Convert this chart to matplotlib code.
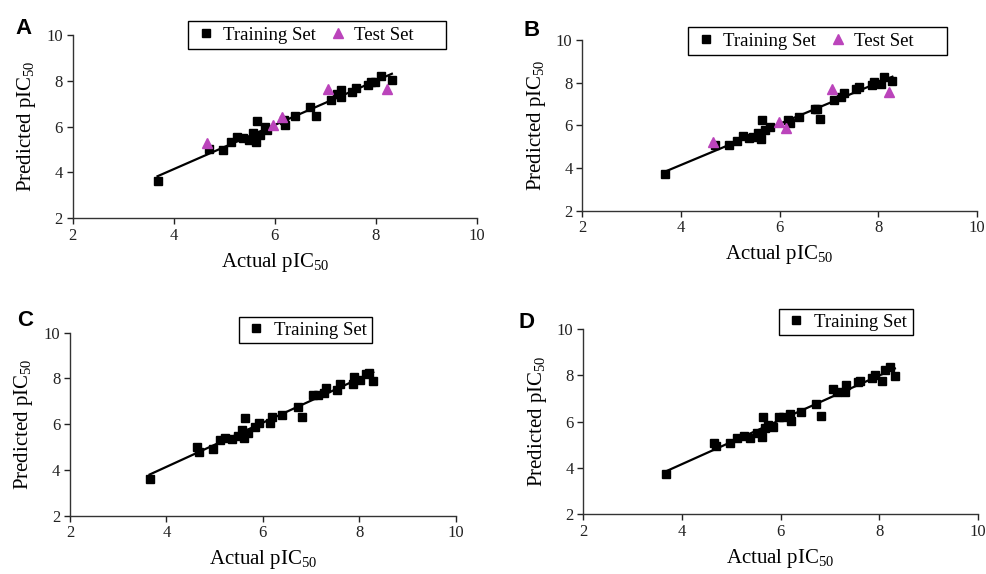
import numpy as np
import matplotlib
matplotlib.use("Agg")
import matplotlib.pyplot as plt
from matplotlib.patches import Rectangle

plt.rcParams['font.family'] = ['Liberation Serif', 'DejaVu Serif']
plt.rcParams['mathtext.default'] = 'regular'

# Panel A
a_train_x = [3.68, 4.69, 4.97, 5.13, 5.25, 5.37, 5.49, 5.58, 5.63, 5.64, 5.71, 5.81, 5.85,
             6.18, 6.21, 6.41, 6.70, 6.82, 7.11, 7.24, 7.32, 7.32, 7.53, 7.60, 7.85, 7.90,
             7.99, 8.10, 8.32]
a_train_y = [3.61, 5.01, 5.00, 5.35, 5.56, 5.49, 5.42, 5.71, 5.35, 6.26, 5.64, 6.00, 5.85,
             6.29, 6.07, 6.47, 6.84, 6.47, 7.16, 7.43, 7.60, 7.31, 7.53, 7.67, 7.82, 7.96,
             7.96, 8.21, 8.04]
a_test_x = [4.65, 5.97, 6.14, 7.05, 8.23]
a_test_y = [5.30, 6.07, 6.44, 7.64, 7.64]

# Panel B
b_train_x = [3.67, 4.69, 4.97, 5.13, 5.25, 5.38, 5.46, 5.57, 5.62, 5.64, 5.71, 5.81, 6.18,
             6.21, 6.40, 6.72, 6.77, 6.83, 7.10, 7.24, 7.31, 7.56, 7.61, 7.87, 7.92, 8.05,
             8.12, 8.29]
b_train_y = [3.70, 5.08, 5.06, 5.27, 5.50, 5.39, 5.44, 5.63, 5.34, 6.25, 5.78, 5.94, 6.25,
             6.09, 6.41, 6.75, 6.75, 6.30, 7.19, 7.34, 7.50, 7.69, 7.81, 7.89, 8.02, 7.92,
             8.28, 8.09]
b_test_x = [4.66, 5.98, 6.14, 7.07, 8.23]
b_test_y = [5.23, 6.17, 5.86, 7.69, 7.58]

# Panel C
c_train_x = [3.65, 4.63, 4.68, 4.97, 5.11, 5.21, 5.35, 5.48, 5.56, 5.60, 5.63, 5.70, 5.84,
             5.93, 6.15, 6.18, 6.39, 6.72, 6.81, 7.05, 7.15, 7.26, 7.31, 7.53, 7.60, 7.87,
             7.90, 8.02, 8.14, 8.21, 8.29]
c_train_y = [3.60, 5.02, 4.80, 4.90, 5.31, 5.41, 5.35, 5.48, 5.74, 5.38, 6.26, 5.60, 5.89,
             6.07, 6.04, 6.33, 6.40, 6.74, 6.30, 7.28, 7.28, 7.38, 7.57, 7.50, 7.76, 7.76,
             8.08, 7.94, 8.20, 8.26, 7.91]

# Panel D
d_train_x = [3.68, 4.65, 4.69, 4.97, 5.12, 5.25, 5.38, 5.52, 5.62, 5.64, 5.68, 5.75, 5.84,
             5.96, 6.06, 6.19, 6.21, 6.41, 6.73, 6.83, 7.06, 7.14, 7.31, 7.33, 7.58, 7.61,
             7.85, 7.92, 8.05, 8.12, 8.22, 8.32]
d_train_y = [3.71, 5.08, 4.94, 5.08, 5.27, 5.37, 5.27, 5.49, 5.34, 6.21, 5.70, 5.85, 5.78,
             6.18, 6.18, 6.32, 6.03, 6.42, 6.74, 6.25, 7.40, 7.29, 7.29, 7.58, 7.69, 7.76,
             7.86, 8.01, 7.76, 8.23, 8.34, 7.98]

ticks = [2, 4, 6, 8, 10]
panel_names = ['A', 'B', 'C', 'D']
xlabel = 'Actual pIC$_{50}$'
ylabel = 'Predicted pIC$_{50}$'

W, H = 986, 574
fig = plt.figure(figsize=(W / 100, H / 100), dpi=100)

def frac(l, r, t, b):
    return [l / W, 1 - b / H, (r - l) / W, (b - t) / H]

boxes = [frac(72.7, 476.7, 35, 218.3), frac(582.3, 976.7, 40, 210.7),
         frac(70, 455.7, 332.7, 515.7), frac(583.3, 977.7, 329, 514)]
trains = [(a_train_x, a_train_y), (b_train_x, b_train_y), (c_train_x, c_train_y), (d_train_x, d_train_y)]
tests = [(a_test_x, a_test_y), (b_test_x, b_test_y), None, None]
# legend frame: left, top, right, bottom (pixels)
legend_box = [(188, 21, 446, 49), (688, 27, 947, 55), (239, 317, 372, 343), (779, 309, 913, 335)]
label_pos = [(23, 29), (532, 30), (25, 320), (527, 323)]

for i in range(4):
    ax = fig.add_axes(boxes[i])
    tx, ty = trains[i]
    tx = np.array(tx); ty = np.array(ty)
    k, c0 = np.polyfit(tx, ty, 1)
    xs = np.array([tx.min(), tx.max()])
    ax.plot(xs, k * xs + c0, color='black', lw=1.6, zorder=2)
    ax.plot(tx, ty, 's', color='black', ms=6, label='Training Set', zorder=3, linestyle='none')
    if tests[i] is not None:
        ax.plot(tests[i][0], tests[i][1], '^', color='#BB44BB', ms=7.5, label='Test Set',
                zorder=4, linestyle='none')
    ax.set_xlim(2, 10)
    ax.set_ylim(2, 10)
    ax.set_xticks(ticks)
    ax.set_yticks(ticks)
    for s in ['top', 'right']:
        ax.spines[s].set_visible(False)
    for s in ['left', 'bottom']:
        ax.spines[s].set_color('#333333')
        ax.spines[s].set_linewidth(1.0)
    ax.tick_params(direction='out', length=4, width=1, labelsize=12, colors='#222222', pad=3)
    ax.set_xlabel(xlabel, fontsize=15, labelpad=5)
    ax.set_ylabel(ylabel, fontsize=15, labelpad=6)

    l, t, r, b = legend_box[i]
    rect = Rectangle((l / W, 1 - b / H), (r - l) / W, (b - t) / H,
                     transform=fig.transFigure, fill=True, facecolor='white',
                     edgecolor='black', lw=1.0, zorder=5, clip_on=False)
    ax.add_patch(rect)
    ncol = 2 if tests[i] is not None else 1
    leg = ax.legend(loc='center left', bbox_to_anchor=((l + (7 if ncol == 2 else 6)) / W,
                                                       1 - (t + b) / 2 / H),
                    bbox_transform=fig.transFigure, ncol=ncol, fontsize=13.5,
                    frameon=False, handletextpad=0.3 if ncol == 2 else 0.35,
                    columnspacing=0.55, borderpad=0, handlelength=1.2, borderaxespad=0)
    leg.set_zorder(6)
    px, py = label_pos[i]
    fig.text(px / W, 1 - py / H, panel_names[i], fontsize=16, fontweight='bold',
             family='Liberation Sans', ha='center', va='center')

fig.savefig('out.png', dpi=100)
